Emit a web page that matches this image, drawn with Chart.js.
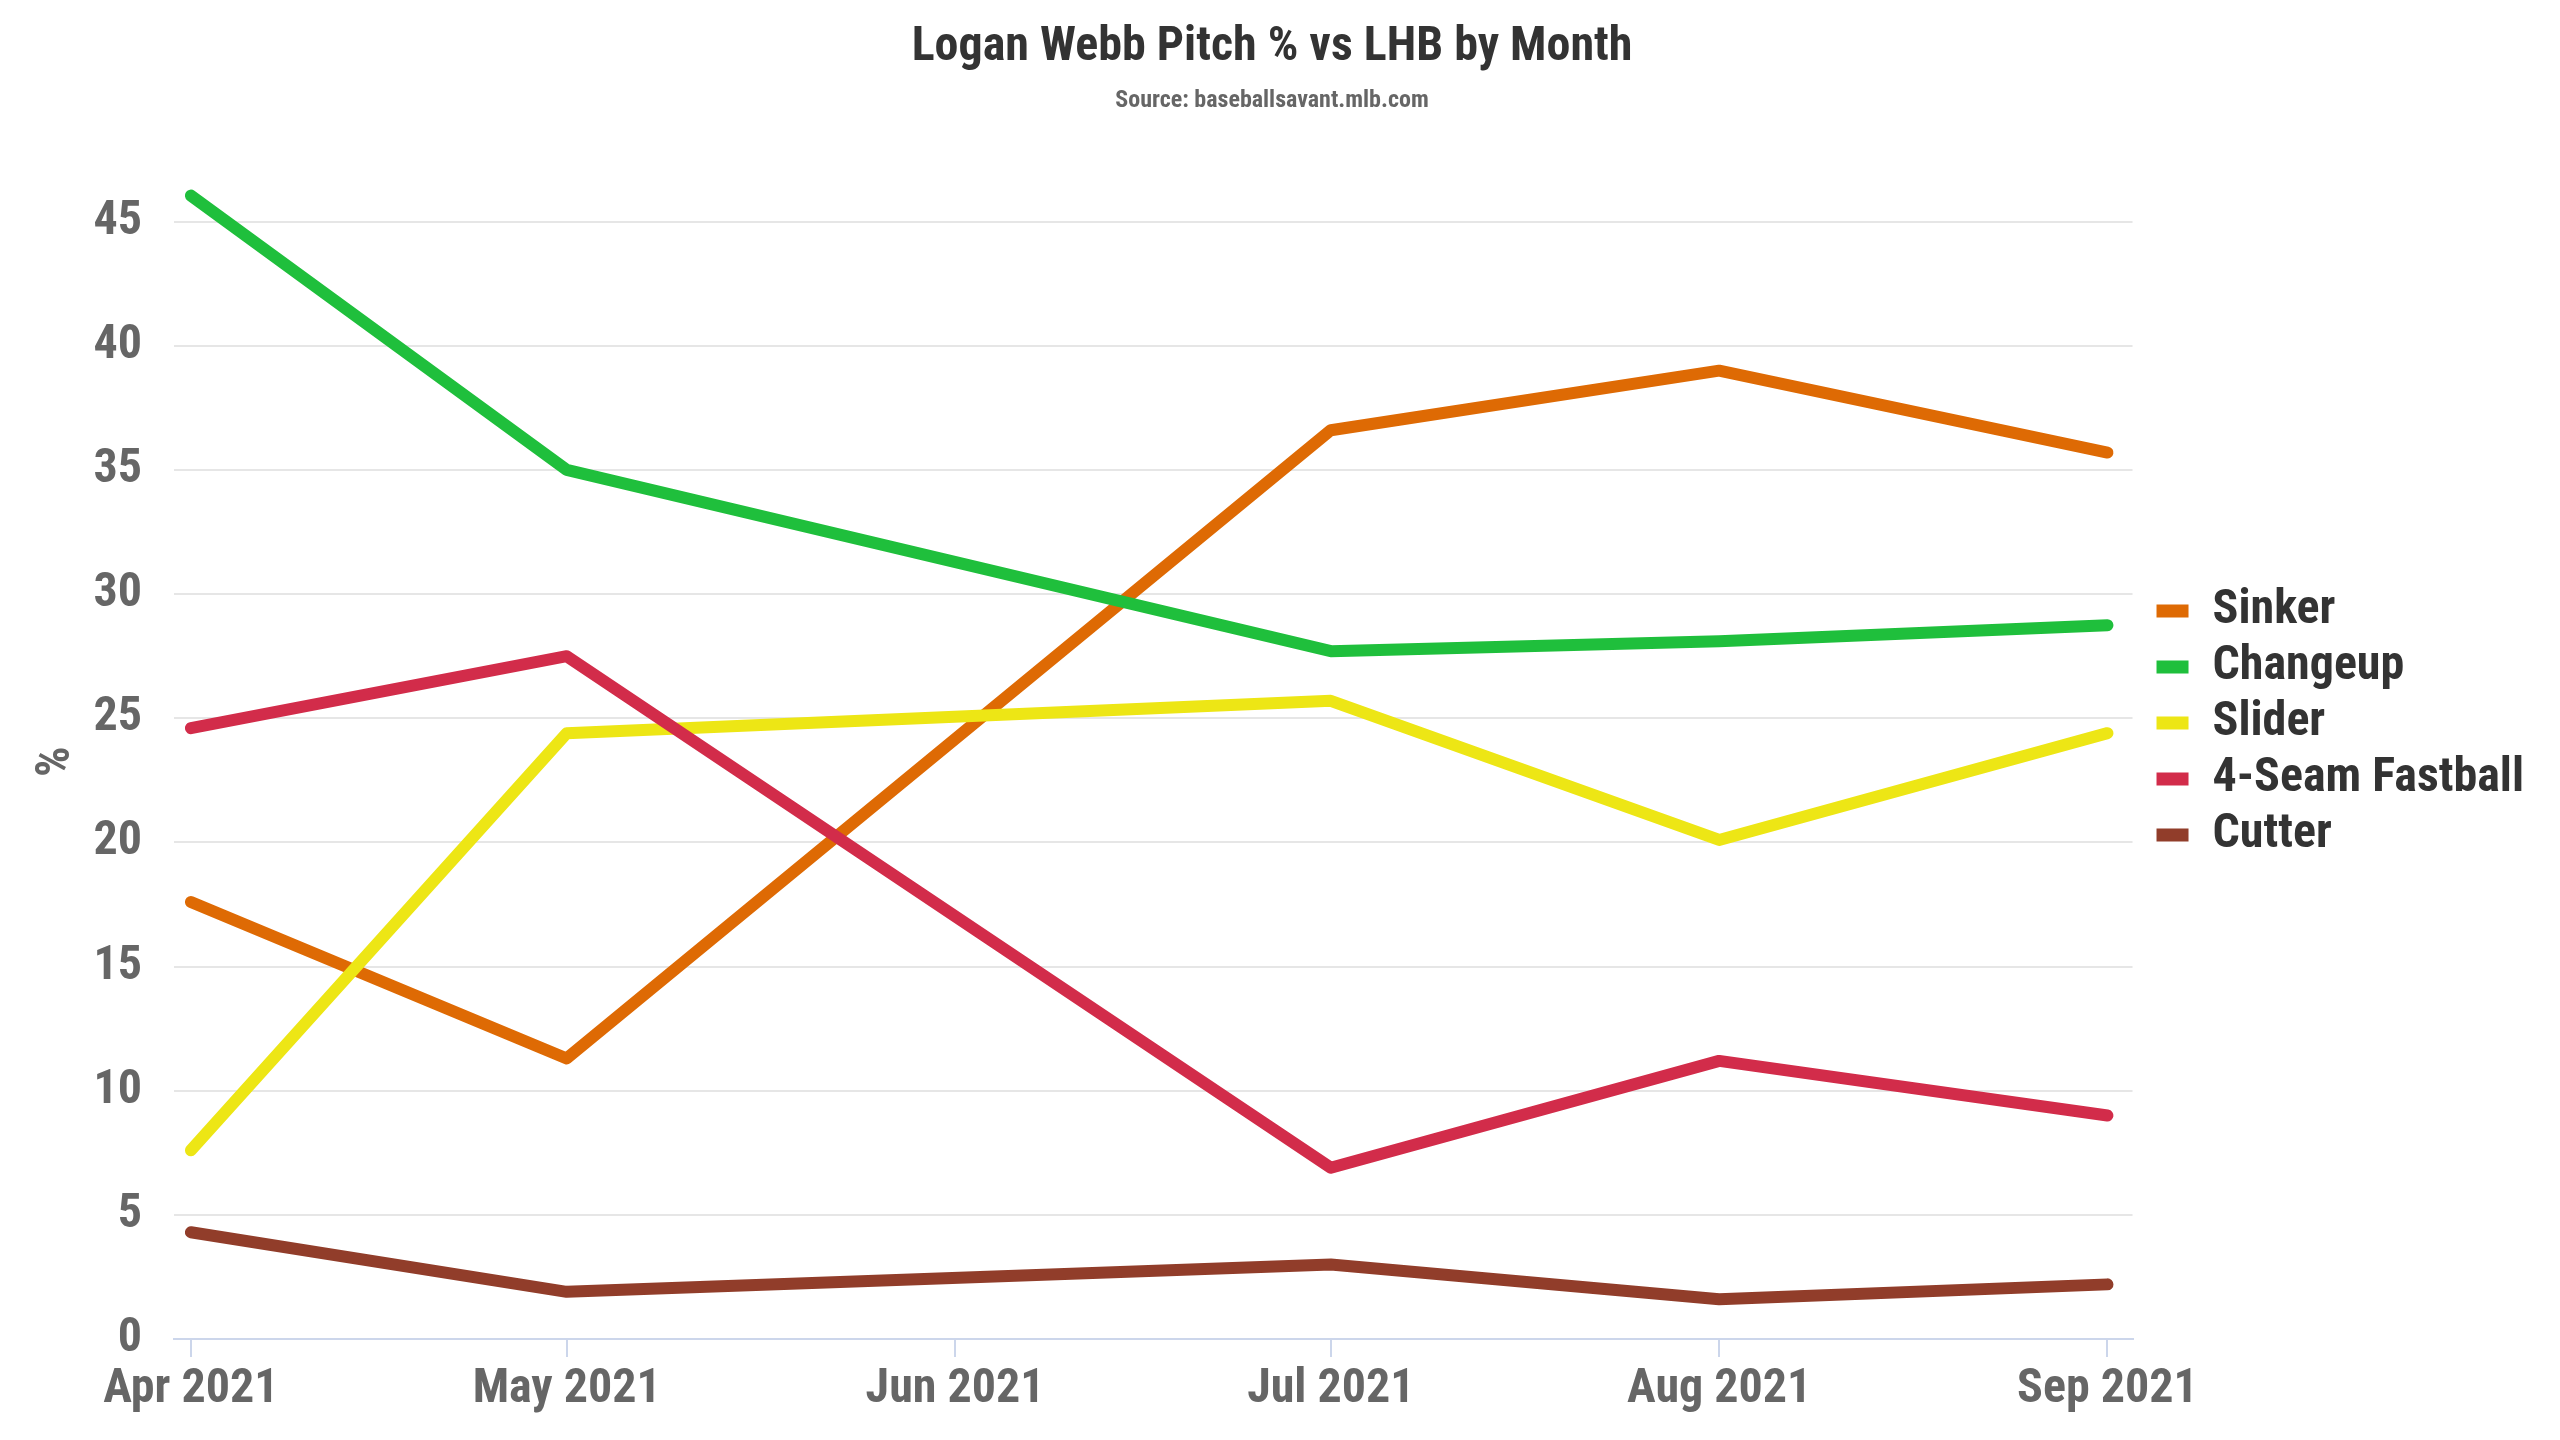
<!DOCTYPE html>
<html>
<head>
<meta charset="utf-8">
<script src="https://cdn.jsdelivr.net/npm/chart.js@4.4.1/dist/chart.umd.min.js"></script>
<style>
  html, body { margin: 0; padding: 0; background: #ffffff; }
  #wrap { width: 2560px; height: 1440px; position: relative; }
</style>
</head>
<body>
<div id="wrap"><canvas id="c"></canvas></div>
<script>
// ---- Data ----
const tickLabels = ['Apr 2021', 'May 2021', 'Jun 2021', 'Jul 2021', 'Aug 2021', 'Sep 2021'];
const tickDays = [0, 30, 61, 91, 122, 153];          // days after 1 Apr 2021
const pointDays = [0, 30, 91, 122, 153];             // Apr, May, Jul, Aug, Sep
const yTicks = [0, 5, 10, 15, 20, 25, 30, 35, 40, 45];

const seriesNames = ['Sinker', 'Changeup', 'Slider', '4-Seam Fastball', 'Cutter'];
const sinker    = [17.6, 11.3, 36.6, 39.0, 35.7];
const changeup  = [46.05, 35.0, 27.7, 28.1, 28.75];
const slider    = [7.6, 24.4, 25.7, 20.1, 24.4];
const fastball  = [24.6, 27.5, 6.9, 11.2, 9.0];
const cutter    = [4.3, 1.9, 3.0, 1.6, 2.2];
const seriesColors = ['#DE6A04', '#1FBF3C', '#EDE615', '#D22C4A', '#913D2A'];

const FONT = "'Roboto Condensed', 'Liberation Sans Narrow', 'Roboto', sans-serif";

const allSeries = [sinker, changeup, slider, fastball, cutter];
const datasets = allSeries.map((vals, i) => ({
  label: seriesNames[i],
  data: vals.map((v, j) => ({ x: pointDays[j], y: v })),
  borderColor: seriesColors[i],
  backgroundColor: seriesColors[i],
  borderWidth: 12,
  borderCapStyle: 'round',
  borderJoinStyle: 'round',
  pointRadius: 0,
  pointHoverRadius: 0,
  tension: 0,
  fill: false,
  order: allSeries.length - i
}));

const chart = new Chart(document.getElementById('c'), {
  type: 'line',
  data: { datasets },
  options: {
    responsive: true,
    maintainAspectRatio: false,
    devicePixelRatio: 1,
    animation: false,
    events: [],
    layout: { padding: { left: 10, right: 26, top: 6, bottom: 0 } },
    plugins: {
      title: {
        display: true,
        text: 'Logan Webb Pitch % vs LHB by Month',
        color: '#333333',
        font: { family: FONT, size: 48, weight: 'bold' },
        padding: { top: 13, bottom: 0 }
      },
      subtitle: {
        display: true,
        text: 'Source: baseballsavant.mlb.com',
        color: '#666666',
        font: { family: FONT, size: 24, weight: 'bold' },
        padding: { top: 10, bottom: 69 }
      },
      legend: {
        position: 'right',
        align: 'center',
        labels: {
          color: '#333333',
          font: { family: FONT, size: 48, weight: 'bold', lineHeight: 1 },
          boxWidth: 32,
          boxHeight: 13,
          padding: 8,
          sort: (a, b) => a.datasetIndex - b.datasetIndex,
          generateLabels: (ch) => ch.data.datasets.map((ds, i) => ({
            text: ds.label,
            fillStyle: ds.borderColor,
            strokeStyle: ds.borderColor,
            lineWidth: 0,
            hidden: false,
            datasetIndex: i,
            fontColor: '#333333'
          }))
        }
      },
      tooltip: { enabled: false }
    },
    scales: {
      x: {
        type: 'linear',
        min: -1.35,
        max: 155,
        afterFit: (s) => { s.height = 101; },
        afterBuildTicks: (s) => { s.ticks = tickDays.map(v => ({ value: v })); },
        grid: {
          drawOnChartArea: false,
          drawTicks: true,
          tickLength: 18,
          color: '#ccd6eb',
          lineWidth: 2
        },
        border: { display: true, color: '#ccd6eb', width: 2 },
        ticks: {
          autoSkip: false,
          maxRotation: 0,
          padding: 4,
          color: '#666666',
          font: { family: FONT, size: 48, weight: 'bold' },
          callback: (v) => { const k = tickDays.indexOf(v); return k >= 0 ? tickLabels[k] : ''; }
        }
      },
      y: {
        min: 0,
        max: 46.5,
        afterFit: (s) => { s.width = 164; },
        afterBuildTicks: (s) => { s.ticks = yTicks.map(v => ({ value: v })); },
        grid: {
          drawTicks: false,
          color: (ctx) => (ctx.tick && ctx.tick.value === 0) ? 'rgba(0,0,0,0)' : '#e6e6e6',
          lineWidth: 2
        },
        border: { display: false },
        ticks: {
          padding: 32,
          color: '#666666',
          font: { family: FONT, size: 48, weight: 'bold' }
        },
        title: {
          display: true,
          text: '%',
          color: '#666666',
          font: { family: FONT, size: 48, weight: 'bold' },
          padding: { top: 18, bottom: 0 }
        }
      }
    }
  }
});

// Leave a gap between the plot area and the legend, keeping the legend items in place.
const LEGEND_GAP = 16;
const legend = chart.legend;
if (legend) {
  const protoFit = Object.getPrototypeOf(legend).fit;
  const protoDraw = Object.getPrototypeOf(legend).draw;
  legend.fit = function () { protoFit.call(this); this.width += LEGEND_GAP; };
  legend.draw = function () {
    const ctx = this.ctx;
    ctx.save();
    ctx.translate(LEGEND_GAP, 0);
    protoDraw.apply(this, arguments);
    ctx.restore();
  };
  chart.options.layout.padding.right = 26 - LEGEND_GAP + LEGEND_GAP; // unchanged outer padding
  chart.update();
}
</script>
</body>
</html>
